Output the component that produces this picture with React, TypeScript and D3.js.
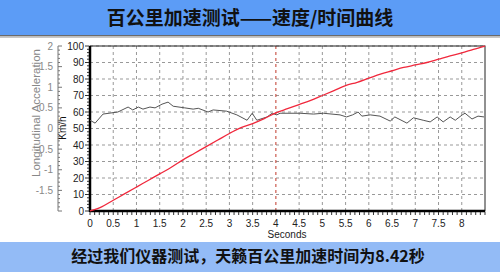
import React from "react";
import * as d3 from "d3";

const titleText = "百公里加速测试——速度/时间曲线";
const footerText = "经过我们仪器测试，天籁百公里加速时间为8.42秒";

const speedTime = [0, 0.25, 0.5, 0.75, 1, 1.25, 1.5, 1.75, 2, 2.25, 2.5, 2.75, 3, 3.25, 3.5, 3.75, 4, 4.25, 4.5, 4.75, 5, 5.25, 5.5, 5.75, 6, 6.25, 6.5, 6.75, 7, 7.25, 7.5, 7.75, 8, 8.25, 8.5];
const speedValues = [0, 2.5, 6.5, 10.5, 14.5, 18.5, 22.5, 26.5, 31, 35, 39, 43, 47, 50.5, 53, 56, 59.5, 62, 64.5, 67, 70, 73, 76, 78, 80.5, 83, 85, 87, 88.5, 90, 92, 94, 95.8, 98, 100];

const accelTime = [0, 0.11, 0.28, 0.6, 0.82, 0.92, 1.04, 1.14, 1.29, 1.4, 1.55, 1.68, 1.79, 2.04, 2.22, 2.33, 2.54, 2.65, 2.94, 3.16, 3.38, 3.49, 3.59, 3.81, 3.92, 4.02, 4.09, 4.52, 4.81, 5.02, 5.38, 5.52, 5.65, 5.77, 5.85, 6.03, 6.24, 6.46, 6.56, 6.82, 6.96, 7.17, 7.32, 7.47, 7.6, 7.75, 7.86, 8.01, 8.07, 8.22, 8.35, 8.48];
const accelValues = [0.2, 0.13, 0.35, 0.4, 0.52, 0.45, 0.52, 0.47, 0.52, 0.5, 0.59, 0.64, 0.54, 0.5, 0.47, 0.49, 0.4, 0.45, 0.42, 0.33, 0.2, 0.37, 0.2, 0.28, 0.37, 0.33, 0.37, 0.37, 0.35, 0.37, 0.33, 0.28, 0.33, 0.4, 0.3, 0.33, 0.3, 0.18, 0.28, 0.13, 0.26, 0.2, 0.16, 0.28, 0.16, 0.28, 0.2, 0.33, 0.37, 0.23, 0.3, 0.28];

const xTicks = [0, 0.5, 1, 1.5, 2, 2.5, 3, 3.5, 4, 4.5, 5, 5.5, 6, 6.5, 7, 7.5, 8];
const speedTicks = [0, 10, 20, 30, 40, 50, 60, 70, 80, 90, 100];
const accelTicks = [2, 1.5, 1, 0.5, 0, -0.5, -1, -1.5];
const markerTime = 4;

export default function App() {
  const W = 500, H = 272;
  const x = d3.scaleLinear().domain([0, 8.5]).range([90, 485]);
  const y = d3.scaleLinear().domain([0, 100]).range([211, 46]);
  const ya = d3.scaleLinear().domain([-2, 2]).range([211, 46]);

  const speedLine = d3.line<number>().x((_, i) => x(speedTime[i])).y((d) => y(d)).curve(d3.curveMonotoneX);
  const accelLine = d3.line<number>().x((_, i) => x(accelTime[i])).y((d) => ya(d));

  const minorX = d3.range(0, 8.51, 0.1);
  const minorY = d3.range(0, 100.1, 2);
  const minorA = d3.range(-2, 2.01, 0.1);
  const font = "Liberation Sans, Arial, sans-serif";
  const cjk = "'Noto Sans CJK SC', sans-serif";

  return (
    <svg width={W} height={H} style={{ position: "absolute", left: 0, top: 0 }}>
      <rect x={0} y={0} width={W} height={H} fill="#fff" />
      {/* title bar */}
      <rect x={0} y={0} width={W} height={35} fill="#5c9cf6" />
      <rect x={0} y={35} width={W} height={1.5} fill="#6b6b6b" />
      <rect x={0} y={36.5} width={W} height={1.5} fill="#c8c8c8" />
      <text x={250} y={25} textAnchor="middle" fontFamily={cjk} fontWeight="bold" fontSize={19} fill="#111">{titleText}</text>

      {/* grid */}
      {speedTicks.slice(1).map((v) => (
        <line key={"gy" + v} x1={x(0)} x2={x(8.5)} y1={y(v)} y2={y(v)} stroke="#999" strokeDasharray="3,3" />
      ))}
      {xTicks.slice(1).map((t) => (
        <line key={"gx" + t} x1={x(t)} x2={x(t)} y1={y(0)} y2={y(100)}
          stroke={t === markerTime ? "#c0392b" : "#999"} strokeDasharray="3,3" />
      ))}

      {/* plot border */}
      <rect x={x(0)} y={y(100)} width={x(8.5) - x(0)} height={y(0) - y(100)} fill="none" stroke="#222" strokeWidth={1} />
      <line x1={x(0)} x2={x(0)} y1={y(100)} y2={y(0) + 1} stroke="#000" strokeWidth={2.5} />
      <line x1={x(0)} x2={x(8.5)} y1={y(0)} y2={y(0)} stroke="#000" strokeWidth={2.5} />

      {/* data */}
      <path d={accelLine(accelValues) || ""} fill="none" stroke="#555" strokeWidth={1} />
      <path d={speedLine(speedValues) || ""} fill="none" stroke="#f0283c" strokeWidth={1.3} />

      {/* x axis ticks */}
      {minorX.map((t, i) => (
        <line key={"mx" + i} x1={x(t)} x2={x(t)} y1={y(0) + 1} y2={y(0) + 4} stroke="#333" />
      ))}
      {xTicks.map((t) => (
        <text key={"xl" + t} x={x(t)} y={227} textAnchor="middle" fontFamily={font} fontSize={10} fill="#222">{t}</text>
      ))}
      <text x={287} y={238} textAnchor="middle" fontFamily={font} fontSize={10} fill="#222">Seconds</text>

      {/* speed axis */}
      {minorY.map((v, i) => (
        <line key={"my" + i} x1={x(0) - 1} x2={x(0) - (v % 10 === 0 ? 5 : 3)} y1={y(v)} y2={y(v)} stroke="#333" />
      ))}
      {speedTicks.map((v) => (
        <text key={"yl" + v} x={84} y={y(v) + 3.5} textAnchor="end" fontFamily={font} fontSize={10} fill="#222">{v}</text>
      ))}
      <text transform={`translate(66,128) rotate(-90)`} textAnchor="middle" fontFamily={font} fontSize={10} fill="#111">Km/h</text>

      {/* acceleration axis */}
      <line x1={58} x2={58} y1={ya(2)} y2={ya(-2)} stroke="#777" />
      {minorA.map((v, i) => (
        <line key={"ma" + i} x1={58} x2={Math.abs(v * 2 - Math.round(v * 2)) < 1e-6 ? 62 : 60} y1={ya(v)} y2={ya(v)} stroke="#777" />
      ))}
      {accelTicks.map((v) => (
        <text key={"al" + v} x={53} y={ya(v) + 3.5} textAnchor="end" fontFamily={font} fontSize={10} fill="#888">{v}</text>
      ))}
      <text transform={`translate(40,113) rotate(-90)`} textAnchor="middle" fontFamily={font} fontSize={11.5} fill="#888">Longitudinal Acceleration</text>

      {/* footer */}
      <rect x={0} y={242} width={W} height={30} fill="#93bbf6" />
      <text x={248} y={262} textAnchor="middle" fontFamily={cjk} fontWeight="bold" fontSize={16} fill="#111">{footerText}</text>
    </svg>
  );
}
